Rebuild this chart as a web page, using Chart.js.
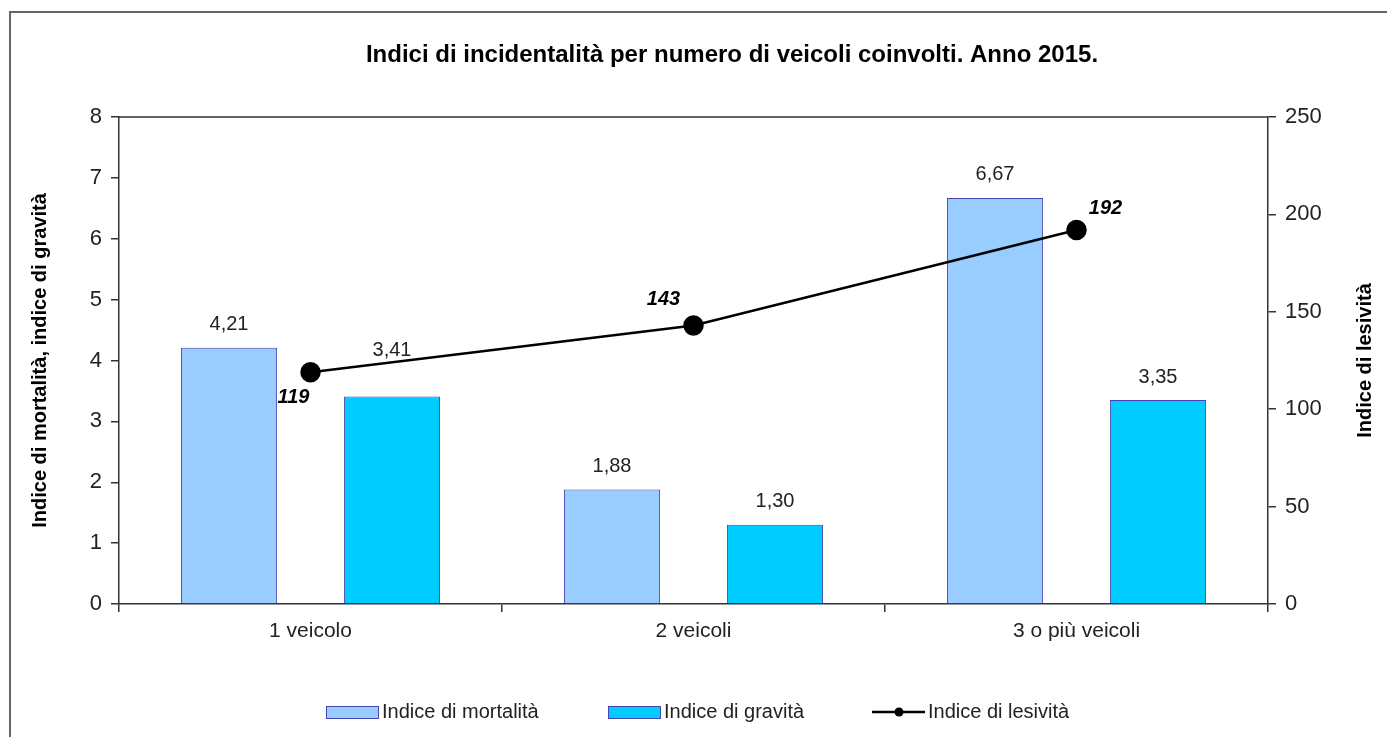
<!DOCTYPE html>
<html>
<head>
<meta charset="utf-8">
<script src="https://cdn.jsdelivr.net/npm/chart.js@4.4.0/dist/chart.umd.min.js"></script>
<style>
html,body{margin:0;padding:0;background:#fff;}
#wrap{width:1387px;height:737px;}
</style>
</head>
<body>
<div id="wrap"><canvas id="chartIndici" width="1387" height="737"></canvas></div>
<script>
var categorie = ['1 veicolo', '2 veicoli', '3 o più veicoli'];
var mortalita = [4.21, 1.88, 6.67];
var gravita = [3.41, 1.30, 3.35];
var lesivita = [119, 143, 192];

var FONT = '"Liberation Sans", Arial, sans-serif';
var INK = '#222';

// bordo esterno, titolo, riga superiore del grafico, titolo asse destro, legenda
var cornice = {
    id: 'cornice',
    beforeDraw: function(chart){
        var ctx = chart.ctx;
        ctx.save();
        ctx.fillStyle = '#fff';
        ctx.fillRect(0, 0, chart.width, chart.height);
        ctx.strokeStyle = '#666';
        ctx.lineWidth = 2;
        ctx.beginPath();
        ctx.moveTo(10, chart.height);
        ctx.lineTo(10, 12);
        ctx.lineTo(chart.width, 12);
        ctx.stroke();
        ctx.restore();
    },
    afterDraw: function(chart){
        var ctx = chart.ctx;
        var a = chart.chartArea;
        ctx.save();
        ctx.strokeStyle = '#333';
        ctx.lineWidth = 1.5;
        ctx.beginPath();
        ctx.moveTo(a.left, a.top);
        ctx.lineTo(a.right, a.top);
        ctx.stroke();

        ctx.fillStyle = '#000';
        ctx.font = 'bold 24px ' + FONT;
        ctx.textAlign = 'center';
        ctx.textBaseline = 'middle';
        ctx.fillText('Indici di incidentalità per numero di veicoli coinvolti. Anno 2015.', 732, 55);

        ctx.font = 'bold 20px ' + FONT;
        ctx.translate(1365, (a.top + a.bottom) / 2);
        ctx.rotate(-Math.PI / 2);
        ctx.fillText('Indice di lesività', 0, 0);
        ctx.restore();

        // legenda
        var ds = chart.data.datasets;
        var xs = [326, 608, 872];
        var ly = 712;
        ctx.save();
        ctx.font = '20px ' + FONT;
        ctx.textBaseline = 'middle';
        ctx.textAlign = 'left';
        ds.forEach(function(d, i){
            var x = xs[i];
            if (d.type === 'line') {
                ctx.strokeStyle = d.borderColor;
                ctx.lineWidth = 2.5;
                ctx.beginPath();
                ctx.moveTo(x, ly);
                ctx.lineTo(x + 53, ly);
                ctx.stroke();
                ctx.fillStyle = d.pointBackgroundColor;
                ctx.beginPath();
                ctx.arc(x + 27, ly, 4.5, 0, Math.PI * 2);
                ctx.fill();
            } else {
                ctx.fillStyle = d.backgroundColor;
                ctx.fillRect(x, ly - 6, 52, 12);
                ctx.strokeStyle = d.borderColor;
                ctx.lineWidth = 1;
                ctx.strokeRect(x + 0.5, ly - 5.5, 52, 12);
            }
            ctx.fillStyle = INK;
            ctx.fillText(d.label, x + 56, ly);
        });
        ctx.restore();
    }
};

// etichette dei valori
var etichette = {
    id: 'etichette',
    afterDatasetsDraw: function(chart, args, opts){
        var ctx = chart.ctx;
        ctx.save();
        ctx.textAlign = 'center';
        ctx.textBaseline = 'middle';
        chart.data.datasets.forEach(function(d, i){
            var meta = chart.getDatasetMeta(i);
            meta.data.forEach(function(el, j){
                var v = d.data[j];
                if (d.type === 'line') {
                    var p = opts.lineaPos[j];
                    ctx.font = 'italic bold 20px ' + FONT;
                    ctx.fillStyle = '#000';
                    ctx.fillText(String(Math.round(v)), el.x + p[0], el.y + p[1]);
                } else {
                    ctx.font = '20px ' + FONT;
                    ctx.fillStyle = INK;
                    var extra = opts.alzaBarre[i] ? opts.alzaBarre[i][j] : 0;
                    ctx.fillText(v.toFixed(2).replace('.', ','), el.x, el.y - 23 - extra);
                }
            });
        });
        ctx.restore();
    }
};

var barBorder = '#4545B0';

var ctx = document.getElementById('chartIndici').getContext('2d');
var chartIndici = new Chart(ctx, {
    type: 'bar',
    data: {
        labels: categorie,
        datasets: [{
            label: 'Indice di mortalità',
            data: mortalita,
            backgroundColor: '#99CCFF',
            borderColor: barBorder,
            borderWidth: 1,
            yAxisID: 'y',
            categoryPercentage: 0.851,
            barPercentage: 0.59,
            order: 2
        }, {
            label: 'Indice di gravità',
            data: gravita,
            backgroundColor: '#00CCFF',
            borderColor: barBorder,
            borderWidth: 1,
            yAxisID: 'y',
            categoryPercentage: 0.851,
            barPercentage: 0.59,
            order: 2
        }, {
            type: 'line',
            label: 'Indice di lesività',
            data: lesivita,
            borderColor: '#000',
            borderWidth: 2.5,
            pointRadius: 9,
            pointBackgroundColor: '#000',
            pointBorderColor: '#000',
            tension: 0,
            yAxisID: 'y1',
            order: 1
        }]
    },
    options: {
        responsive: false,
        animation: false,
        layout: { padding: { top: 117, left: 0, right: 0, bottom: 0 } },
        plugins: {
            legend: { display: false },
            title: { display: false },
            tooltip: { enabled: false },
            etichette: {
                lineaPos: [[-17, 25], [-30, -26], [29, -21]],
                alzaBarre: [[0, 0, 0], [23, 0, 0]]
            }
        },
        scales: {
            x: {
                grid: { display: true, drawOnChartArea: false, drawTicks: true, tickLength: 8, color: '#333', lineWidth: 1.5, offset: true },
                border: { display: true, color: '#333', width: 1.5 },
                ticks: { color: INK, font: { family: FONT, size: 21 }, padding: 7 },
                afterFit: function(s){ s.height = 133; }
            },
            y: {
                position: 'left',
                min: 0, max: 8,
                ticks: { stepSize: 1, color: INK, font: { family: FONT, size: 22 }, padding: 9 },
                grid: { drawOnChartArea: false, drawTicks: true, tickLength: 8, color: '#333', lineWidth: 1.5 },
                border: { display: true, color: '#333', width: 1.5 },
                title: { display: true, text: 'Indice di mortalità, indice di gravità', color: '#000', font: { family: FONT, size: 20, weight: 'bold' }, padding: { top: 28, bottom: 0 } },
                afterFit: function(s){ s.width = 119; }
            },
            y1: {
                position: 'right',
                min: 0, max: 250,
                ticks: { stepSize: 50, color: INK, font: { family: FONT, size: 22 }, padding: 9 },
                grid: { drawOnChartArea: false, drawTicks: true, tickLength: 8, color: '#333', lineWidth: 1.5 },
                border: { display: true, color: '#333', width: 1.5 },
                afterFit: function(s){ s.width = 119; }
            }
        }
    },
    plugins: [cornice, etichette]
});
</script>
</body>
</html>
